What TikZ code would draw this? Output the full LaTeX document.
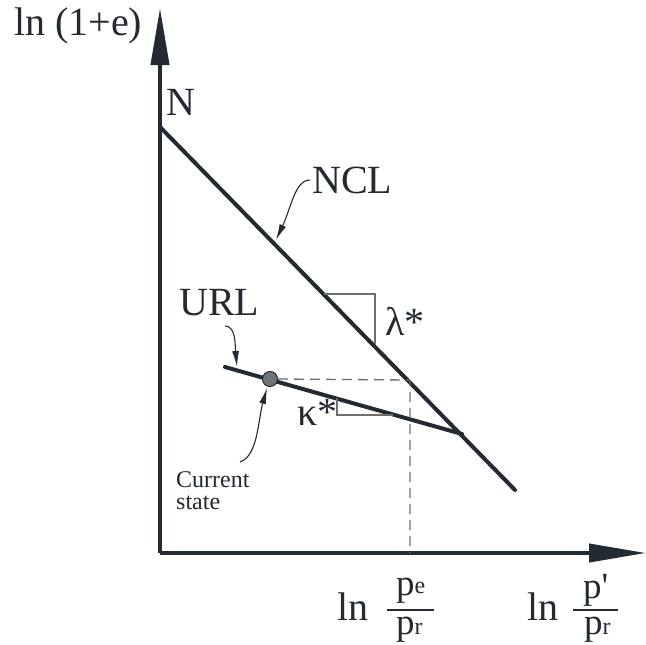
\documentclass[tikz,border=0pt]{standalone}
\usepackage{fontspec}
\setmainfont{Liberation Serif}
\usetikzlibrary{arrows.meta}
\definecolor{ink}{HTML}{232A32}
\definecolor{thin}{HTML}{6E6E6E}
\begin{document}
\begin{tikzpicture}[x=1pt,y=-1pt,
  axis/.style={line width=4pt, draw=ink, -{Triangle[length=57pt,width=18pt]}},
  mainline/.style={line width=4pt, draw=ink, line cap=round},
  slope/.style={line width=1.3pt, draw=thin},
  guide/.style={line width=1.3pt, draw=thin, dash pattern=on 10pt off 6pt},
  pointer/.style={line width=1.1pt, draw=ink, -{Latex[length=16pt,width=7pt]}},
  big/.style={font=\fontsize{40}{42}\selectfont, inner sep=0pt, text=ink},
  mid/.style={font=\fontsize{37}{40}\selectfont, inner sep=0pt, text=ink},
  small/.style={font=\fontsize{24}{26}\selectfont, inner sep=0pt, text=ink},
  fracbar/.style={line width=2.5pt, draw=ink}]
\useasboundingbox (0,0) rectangle (646,645);
% points
\coordinate (O) at (160,553);
\coordinate (ytip) at (160,8);
\coordinate (xtip) at (646,553);
\coordinate (Npt) at (160,127);
\coordinate (ncl end) at (515,490);
\coordinate (url start) at (225,367);
\coordinate (url end) at (462,434);
\coordinate (pe) at (410,380);
\coordinate (pex) at (410,553);
% axes
\draw[axis] (O) -- (ytip);
\draw[axis] (O) -- (xtip);
% lines
\draw[mainline] (Npt) -- (ncl end);
\draw[mainline] (url start) -- (url end);
% slope triangles
\draw[slope] (324,294) -- (375,294) -- (375,344);
\draw[slope] (337,398) -- (337,415) -- (393,415);
% current state
\node[circle, fill=ink!65, draw=ink, line width=1pt, minimum size=15pt, inner sep=0pt] (cs) at (270,379) {};
\draw[guide] (cs.east) -- (pe) -- (pex);
% labels
\node[big, anchor=base west] (lab y) at (14,35) {ln (1+e)};
\node[big, anchor=base west] (lab N) at (166,115) {N};
\node[big, anchor=base west] (lab ncl) at (312,193) {NCL};
\node[big, anchor=base west] (lab url) at (179,315) {URL};
\node[big, anchor=base west] (lab lam) at (385,335) {λ*};
\node[big, anchor=base west] (lab kap) at (297,425) {κ*};
\node[small, anchor=base west] (lab cs1) at (176,487) {Current};
\node[small, anchor=base west] (lab cs2) at (176,509) {state};
% pointers
\coordinate (ncl hit) at (276,240);
\coordinate (url hit) at (237,367);
\coordinate (cs hit) at (267,388);
\draw[pointer] (310,180) .. controls (295,180) and (291,208) .. (ncl hit);
\draw[pointer] (225,326) .. controls (236,326) and (235,345) .. (url hit);
\draw[pointer] (240,462) .. controls (258,456) and (258,420) .. (cs hit);
% x-axis labels
\node[big, anchor=base west] (ln1) at (337,620) {ln};
\node[mid, anchor=base west] (num1) at (396,595) {p\raisebox{2pt}{\fontsize{24}{26}\selectfont e}};
\node[mid, anchor=base west] (den1) at (396,634) {p{\fontsize{24}{26}\selectfont r}};
\draw[fracbar] (387,610) -- (434,610);
\node[big, anchor=base west] (ln2) at (527,620) {ln};
\node[mid, anchor=base west] (num2) at (583,598) {p\textquotesingle};
\node[mid, anchor=base west] (den2) at (584,634) {p{\fontsize{24}{26}\selectfont r}};
\draw[fracbar] (573,610) -- (618,610);
\end{tikzpicture}
\end{document}
